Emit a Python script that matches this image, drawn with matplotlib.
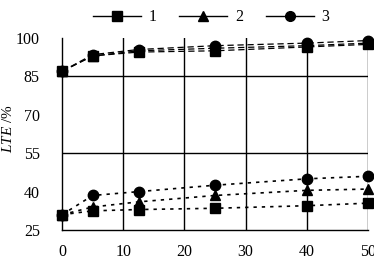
import numpy as np, matplotlib
matplotlib.use('Agg'); import matplotlib.pyplot as plt
from matplotlib.lines import Line2D

plt.rcParams['font.family'] = ['Liberation Serif', 'DejaVu Serif']
plt.rcParams['mathtext.fontset'] = 'custom'
plt.rcParams['mathtext.it'] = 'Liberation Serif:italic'
plt.rcParams['mathtext.rm'] = 'Liberation Serif'

x = [0, 5, 12.5, 25, 40, 50]
# upper group (dashed) and lower group (dotted), per series
s1_hi = [87, 93, 94.5, 95, 96.5, 97.5]
s2_hi = [87, 93, 95, 96, 97, 98]
s3_hi = [87, 93.5, 95.5, 97, 98, 99]
s1_lo = [31, 32.5, 33, 33.5, 34.5, 35.5]
s2_lo = [31, 34, 36, 38.5, 40.5, 41]
s3_lo = [31, 38.5, 40, 42.5, 45, 46]
labels = ['1', '2', '3']
markers = ['s', '^', 'o']
xticks = [0, 10, 20, 30, 40, 50]
yticks = [25, 40, 55, 70, 85, 100]

fig = plt.figure(figsize=(3.74, 2.62), dpi=100)
ax = fig.add_axes([0.166, 0.122, 0.818, 0.733])

for hi, lo, mk in zip([s1_hi, s2_hi, s3_hi], [s1_lo, s2_lo, s3_lo], markers):
    ax.plot(x, hi, ls=(0, (5, 3)), lw=0.9, color='k', marker=mk, ms=7.5, clip_on=False, zorder=3)
    ax.plot(x, lo, ls=(0, (2, 3)), lw=1.2, color='k', marker=mk, ms=7.5, clip_on=False, zorder=3)

for xv in xticks[1:]:
    ax.axvline(xv, color='k', lw=1, zorder=1)
for yv in [55, 85]:
    ax.axhline(yv, color='k', lw=1, zorder=1)

ax.set_xlim(0, 50); ax.set_ylim(25, 100)
ax.set_xticks(xticks); ax.set_yticks(yticks)
ax.tick_params(length=0, labelsize=11.5)
ax.tick_params(axis='x', pad=10)
ax.tick_params(axis='y', pad=16)
for s in ['top', 'right']:
    ax.spines[s].set_visible(False)
for s in ['left', 'bottom']:
    ax.spines[s].set_linewidth(1)
ax.set_ylabel(r'$\mathit{LTE}$ /%', fontsize=11)
ax.yaxis.set_label_coords(-0.155, 0.53)

handles = [Line2D([], [], color='k', lw=1, marker=m, ms=7) for m in markers]
fig.legend(handles, labels, loc='upper center', bbox_to_anchor=(0.565, 1.02), ncol=3,
           frameon=False, fontsize=11.5, handlelength=3.0, columnspacing=1.4, handletextpad=0.5)

plt.savefig('out.png', dpi=100)
